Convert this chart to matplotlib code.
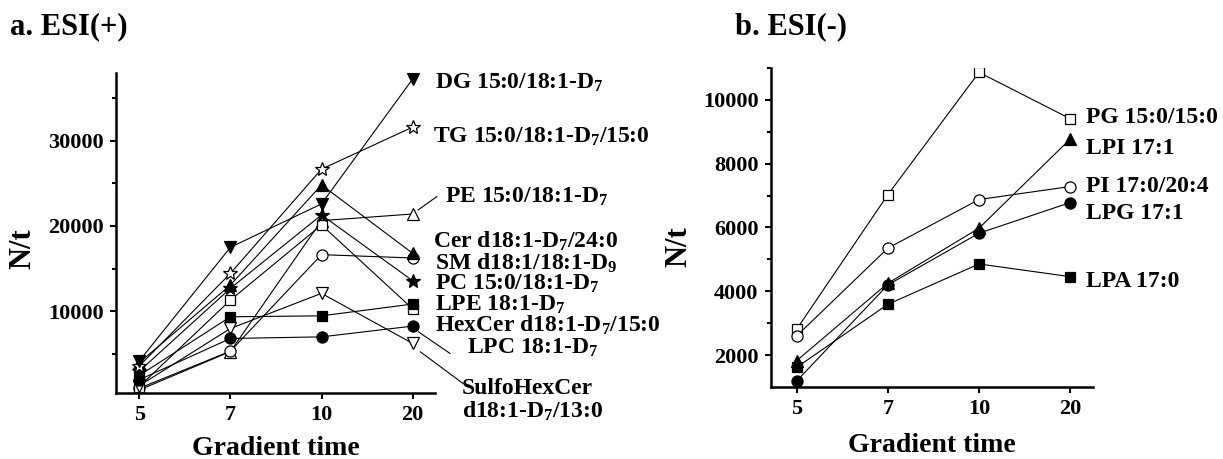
import numpy as np
import matplotlib
matplotlib.use("Agg")
import matplotlib.pyplot as plt

plt.rcParams['font.family'] = ['Liberation Serif', 'DejaVu Serif']
plt.rcParams['font.weight'] = 'bold'
plt.rcParams['mathtext.fontset'] = 'custom'
plt.rcParams['mathtext.rm'] = 'Liberation Serif:bold'
plt.rcParams['mathtext.it'] = 'Liberation Serif:bold'
plt.rcParams['mathtext.bf'] = 'Liberation Serif:bold'

# gradient times (categorical, evenly spaced)
times = ['5', '7', '10', '20']

# ESI(+) series, N/t
dg = [4200, 17500, 22580, 37200]
tg = [3600, 14450, 26650, 31570]
pe = [800, 5300, 20620, 21400]
cer = [4000, 13080, 24800, 16800]
sm = [1000, 5350, 16640, 16250]
pc = [3000, 12700, 21290, 13590]
lpe = [2500, 9370, 9480, 10860]
hexcer = [1200, 11320, 20120, 10300]
lpc = [2000, 6830, 7020, 8280]
sulfo = [1300, 8000, 12110, 6250]

# ESI(-) series, N/t
pg = [2807, 7024, 10864, 9410]
lpi = [1821, 4250, 5978, 8772]
pi = [2597, 5350, 6877, 7285]
lpg = [1184, 4198, 5820, 6782]
lpa = [1613, 3591, 4857, 4459]

pos_labels = ['DG 15:0/18:1-D$_7$', 'TG 15:0/18:1-D$_7$/15:0', 'PE 15:0/18:1-D$_7$',
              'Cer d18:1-D$_7$/24:0', 'SM d18:1/18:1-D$_9$', 'PC 15:0/18:1-D$_7$',
              'LPE 18:1-D$_7$', 'HexCer d18:1-D$_7$/15:0', 'LPC 18:1-D$_7$',
              'SulfoHexCer\nd18:1-D$_7$/13:0']
neg_labels = ['PG 15:0/15:0', 'LPI 17:1', 'PI 17:0/20:4', 'LPG 17:1', 'LPA 17:0']


def style_axes(ax):
    for s in ['top', 'right']:
        ax.spines[s].set_visible(False)
    for s in ['left', 'bottom']:
        ax.spines[s].set_linewidth(1.8)
    ax.tick_params(which='major', direction='out', length=4, width=1.5, labelsize=16, pad=5)
    ax.tick_params(which='minor', direction='out', length=3, width=1.5)
    ax.set_xlabel('Gradient time', fontsize=20, fontweight='bold')
    ax.set_ylabel('N/t', fontsize=22, fontweight='bold')


fig = plt.figure(figsize=(12.23, 4.59), dpi=100)
W, H = 1223, 459
ax1 = fig.add_axes([116 / W, 1 - 393 / H, (435 - 116) / W, (393 - 73) / H])
ax2 = fig.add_axes([771 / W, 1 - 387 / H, (1093 - 771) / W, (387 - 68) / H])

x = np.arange(len(times))
lw = 0.8
k = dict(color='black', lw=lw, markeredgecolor='black', markeredgewidth=0.9)

# ---- a. ESI(+)
ax1.plot(x, pe, marker='^', ms=9, markerfacecolor='white', **k)
ax1.plot(x, sm, marker='o', ms=8, markerfacecolor='white', **k)
ax1.plot(x, hexcer, marker='s', ms=7, markerfacecolor='white', **k)
ax1.plot(x, sulfo, marker='v', ms=9, markerfacecolor='white', **k)
ax1.plot(x, lpc, marker='o', ms=8, markerfacecolor='black', **k)
ax1.plot(x, lpe, marker='s', ms=7, markerfacecolor='black', **k)
ax1.plot(x, pc, marker='*', ms=10, markerfacecolor='black', **k)
ax1.plot(x, cer, marker='^', ms=9, markerfacecolor='black', **k)
ax1.plot(x, tg, marker='*', ms=10, markerfacecolor='white', **k)
ax1.plot(x, dg, marker='v', ms=9, markerfacecolor='black', **k)

ax1.set_xlim(-0.255, 3.245)
ax1.set_ylim(450, 37900)
ax1.set_xticks(x)
ax1.set_xticklabels(times)
ax1.set_yticks([10000, 20000, 30000])
ax1.set_yticks([5000, 15000, 25000, 35000], minor=True)
style_axes(ax1)
ax1.yaxis.set_label_coords(-0.248, 0.45)
ax1.xaxis.set_label_coords(0.5, -0.135)

pos_lab_x = [3.246, 3.22, 3.36, 3.22, 3.24, 3.24, 3.25, 3.24, 3.60, 3.54]
pos_lab_y = [36765, 30470, 23435, 18160, 15630, 13280, 10740, 8390, 5780, -460]
for lab, lx, ly in zip(pos_labels, pos_lab_x, pos_lab_y):
    ax1.text(lx, ly, lab, ha='left', va='center', fontsize=17, fontweight='bold',
             clip_on=False, linespacing=1.05)

# leader lines
ax1.plot([3.06, 3.265], [21876, 23435], color='black', lw=lw, clip_on=False)
ax1.plot([3.063, 3.41], [7608, 5076], color='black', lw=lw, clip_on=False)
ax1.plot([3.085, 3.553], [5264, 1559], color='black', lw=lw, clip_on=False)

# ---- b. ESI(-)
ax2.plot(x, pg, marker='s', ms=7, markerfacecolor='white', **k)
ax2.plot(x, pi, marker='o', ms=8, markerfacecolor='white', **k)
ax2.plot(x, lpg, marker='o', ms=8, markerfacecolor='black', **k)
ax2.plot(x, lpi, marker='^', ms=9, markerfacecolor='black', **k)
ax2.plot(x, lpa, marker='s', ms=7, markerfacecolor='black', **k)

ax2.set_xlim(-0.28, 3.25)
ax2.set_ylim(1000, 11000)
ax2.set_xticks(x)
ax2.set_xticklabels(times)
ax2.set_yticks([2000, 4000, 6000, 8000, 10000])
ax2.set_yticks([3000, 5000, 7000, 9000, 11000], minor=True)
style_axes(ax2)
ax2.yaxis.set_label_coords(-0.242, 0.44)
ax2.xaxis.set_label_coords(0.5, -0.145)

neg_lab_y = [9463, 8490, 7284, 6449, 4301]
for lab, ly in zip(neg_labels, neg_lab_y):
    ax2.text(3.176, ly, lab, ha='left', va='center', fontsize=17, fontweight='bold',
             clip_on=False)

fig.text(10 / W, 1 - 27 / H, 'a. ESI(+)', fontsize=22, fontweight='bold', va='center', ha='left')
fig.text(735 / W, 1 - 27 / H, 'b. ESI(-)', fontsize=22, fontweight='bold', va='center', ha='left')

fig.savefig('out.png', dpi=100)
